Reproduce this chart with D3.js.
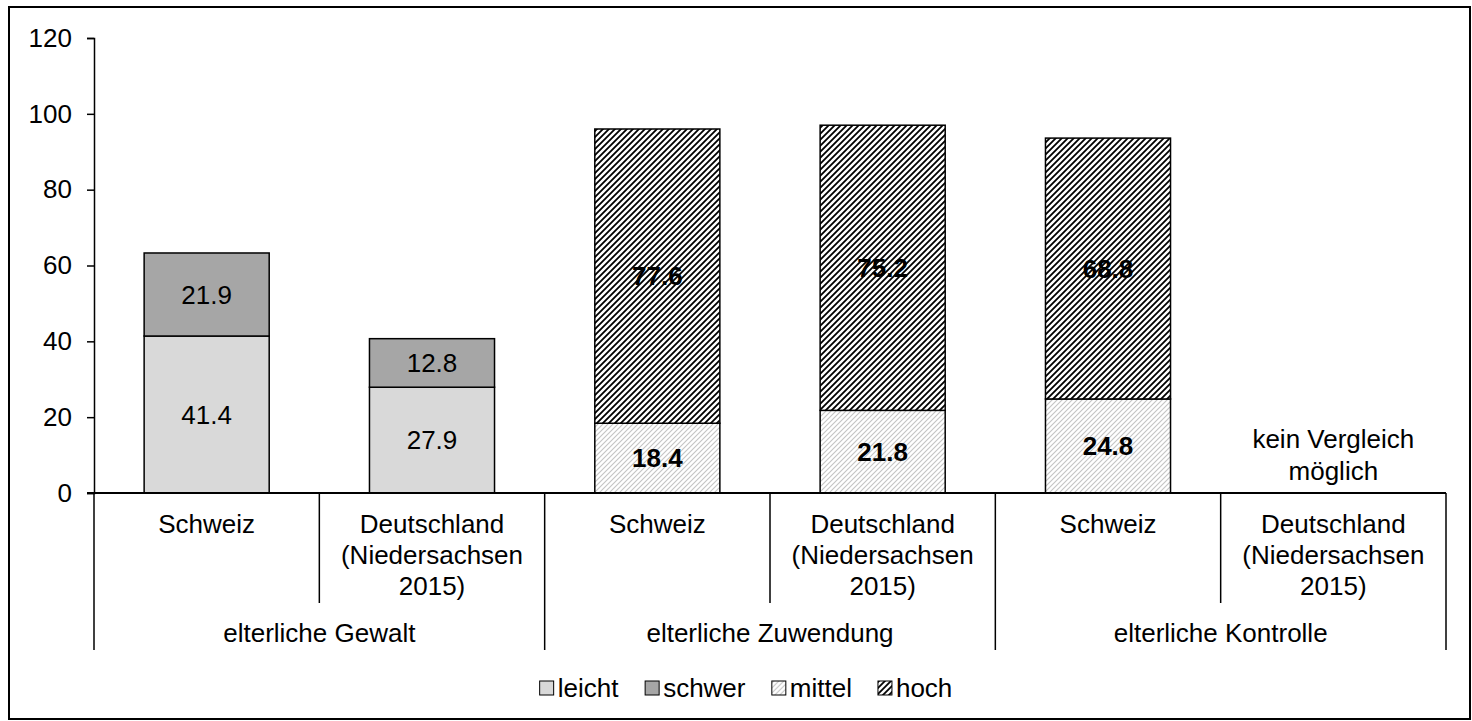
<!DOCTYPE html>
<meta charset="utf-8">
<script src="https://d3js.org/d3.v7.min.js"></script>
<style>
  body { margin: 0; background: #fff; }
  text { font-family: "Liberation Sans", Arial, sans-serif; fill: #000; }
</style>
<div id="chart"></div>
<script>

// data
var groups = ["elterliche Gewalt", "elterliche Zuwendung", "elterliche Kontrolle"];
var countries = ["Schweiz", "Deutschland|(Niedersachsen|2015)"];
var lowerSeries = ["leicht", "mittel", "mittel"];   // per group
var upperSeries = ["schwer", "hoch", "hoch"];
var lowerValues = [41.4, 27.9, 18.4, 21.8, 24.8, null];
var upperValues = [21.9, 12.8, 77.6, 75.2, 68.8, null];
var yTicks = [0, 20, 40, 60, 80, 100, 120];
var legendItems = ["leicht", "schwer", "mittel", "hoch"];
var noteText = ["kein Vergleich", "möglich"];

var W = 1472, H = 721;
var margin = {top: 38, left: 94, right: 26, bottom: 228};
var width = W - margin.left - margin.right,
    height = H - margin.top - margin.bottom;
var fs = "26px";

var svg = d3.select("#chart").append("svg")
    .attr("width", W).attr("height", H);

// outer frame
svg.append("rect")
    .attr("x", 9).attr("y", 7)
    .attr("width", 1461).attr("height", 712)
    .attr("fill", "none").attr("stroke", "#000").attr("stroke-width", 2);

// patterns
var defs = svg.append("defs");
var pHoch = defs.append("pattern").attr("id", "hoch")
    .attr("patternUnits", "userSpaceOnUse").attr("width", 6).attr("height", 6);
pHoch.append("rect").attr("width", 6).attr("height", 6).attr("fill", "#fff");
pHoch.append("path").attr("d", "M-1,1 l2,-2 M0,6 l6,-6 M5,7 l2,-2")
    .attr("stroke", "#000").attr("stroke-width", 1.8);
var pMittel = defs.append("pattern").attr("id", "mittel")
    .attr("patternUnits", "userSpaceOnUse").attr("width", 5).attr("height", 5);
pMittel.append("rect").attr("width", 5).attr("height", 5).attr("fill", "#fff");
pMittel.append("path").attr("d", "M-1,1 l2,-2 M0,5 l5,-5 M4,6 l2,-2")
    .attr("stroke", "#c4c4c4").attr("stroke-width", 1.1);

var fills = {leicht: "#d9d9d9", schwer: "#a6a6a6", mittel: "url(#mittel)", hoch: "url(#hoch)"};

var g = svg.append("g")
    .attr("transform", "translate(" + margin.left + "," + margin.top + ")");

// build bar table
var bars = [];
groups.forEach(function(grp, gi) {
  countries.forEach(function(c, ci) {
    var i = gi * countries.length + ci;
    bars.push({key: i, group: gi, country: c,
               lower: lowerValues[i], upper: upperValues[i],
               ls: lowerSeries[gi], us: upperSeries[gi]});
  });
});

var x = d3.scaleBand().domain(bars.map(function(d) { return d.key; }))
    .range([0, width]).padding(0);
var barW = x.bandwidth() * 0.555;
var y = d3.scaleLinear().domain([0, 120]).range([height, 0]);

// y axis
var yAxis = g.append("g")
    .call(d3.axisLeft(y).tickValues(yTicks).tickSize(7).tickPadding(15));
yAxis.select(".domain").attr("stroke-width", 1.5);
yAxis.selectAll(".tick line").attr("stroke-width", 1.5);
yAxis.selectAll("text").style("font-size", fs)
    .style("font-family", "'Liberation Sans', Arial, sans-serif");

// bars
var drawn = bars.filter(function(d) { return d.lower != null; });
var bg = g.selectAll(".bar").data(drawn).enter().append("g");

bg.append("rect")
    .attr("x", function(d) { return x(d.key) + (x.bandwidth() - barW) / 2; })
    .attr("y", function(d) { return y(d.lower); })
    .attr("width", barW)
    .attr("height", function(d) { return y(0) - y(d.lower); })
    .attr("fill", function(d) { return fills[d.ls]; })
    .attr("stroke", "#000").attr("stroke-width", 1.5);

bg.append("rect")
    .attr("x", function(d) { return x(d.key) + (x.bandwidth() - barW) / 2; })
    .attr("y", function(d) { return y(d.lower + d.upper); })
    .attr("width", barW)
    .attr("height", function(d) { return y(d.lower) - y(d.lower + d.upper); })
    .attr("fill", function(d) { return fills[d.us]; })
    .attr("stroke", "#000").attr("stroke-width", 1.5);

function label(sel, valFn, midFn) {
  sel.append("text")
    .attr("x", function(d) { return x(d.key) + x.bandwidth() / 2; })
    .attr("y", function(d) { return y(midFn(d)); })
    .attr("dy", "0.35em")
    .attr("text-anchor", "middle")
    .style("font-size", fs)
    .style("font-weight", function(d) { return d.group === 0 ? "normal" : "bold"; })
    .text(function(d) { return valFn(d).toFixed(1); });
}
label(bg, function(d) { return d.lower; }, function(d) { return d.lower / 2; });
label(bg, function(d) { return d.upper; }, function(d) { return d.lower + d.upper / 2; });

// x axis line
g.append("line")
    .attr("x1", -7).attr("x2", width)
    .attr("y1", height).attr("y2", height)
    .attr("stroke", "#000").attr("stroke-width", 2);

// category separators
var bounds = d3.range(bars.length + 1);
g.selectAll(".sep").data(bounds).enter().append("line")
    .attr("x1", function(i) { return i * x.step(); })
    .attr("x2", function(i) { return i * x.step(); })
    .attr("y1", height)
    .attr("y2", function(i) { return height + (i % countries.length === 0 ? 157 : 110); })
    .attr("stroke", "#000").attr("stroke-width", 1.5);

// country labels
var cl = g.selectAll(".clab").data(bars).enter().append("text")
    .attr("text-anchor", "middle")
    .attr("transform", function(d) {
      return "translate(" + (x(d.key) + x.bandwidth() / 2) + "," + (height + 40) + ")";
    })
    .style("font-size", fs);
cl.selectAll("tspan").data(function(d) { return d.country.split("|"); })
  .enter().append("tspan")
    .attr("x", 0)
    .attr("y", function(t, i) { return i * 31; })
    .text(function(t) { return t; });

// group labels
g.selectAll(".glab").data(groups).enter().append("text")
    .attr("x", function(d, i) { return (i + 0.5) * x.step() * countries.length; })
    .attr("y", height + 149)
    .attr("text-anchor", "middle")
    .style("font-size", fs)
    .text(function(d) { return d; });

// note for missing bar
var missing = bars.filter(function(d) { return d.lower == null; });
missing.forEach(function(d) {
  g.append("text")
    .attr("text-anchor", "middle")
    .attr("transform", "translate(" + (x(d.key) + x.bandwidth() / 2) + "," + (height - 45) + ")")
    .style("font-size", fs)
    .selectAll("tspan").data(noteText).enter().append("tspan")
      .attr("x", 0).attr("y", function(t, i) { return i * 32; })
      .text(function(t) { return t; });
});

// legend
var legend = svg.append("g");
var lx = 0, gap = 26;
var items = legend.selectAll("g").data(legendItems).enter().append("g");
items.append("rect")
    .attr("x", 0).attr("y", -7).attr("width", 14).attr("height", 14)
    .attr("fill", function(d) { return fills[d]; })
    .attr("stroke", "#000").attr("stroke-width", 1);
items.append("text")
    .attr("x", 18).attr("y", 9)
    .style("font-size", fs)
    .text(function(d) { return d; });
items.each(function() {
  var w = this.getBBox().width;
  d3.select(this).attr("transform", "translate(" + lx + ",0)");
  lx += w + gap;
});
legend.attr("transform", "translate(" + (746 - (lx - gap) / 2) + ",688)");

</script>
